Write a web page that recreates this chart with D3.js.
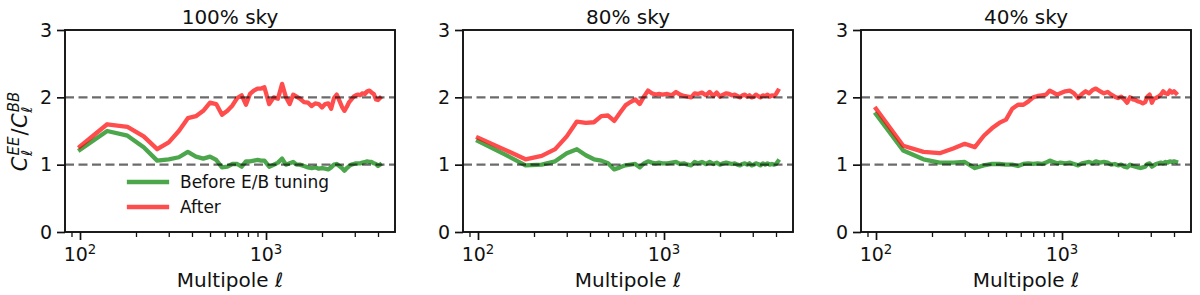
<!DOCTYPE html>
<html><head><meta charset="utf-8">
<script src="https://cdn.jsdelivr.net/npm/d3@7"></script>
<style>
body{margin:0;background:#fff}
svg{display:block}
text{font-family:"DejaVu Sans",sans-serif;fill:#111}
</style>
</head><body>
<svg id="c" width="1200" height="295"></svg>
<script>
// ---------------- data ----------------
const ell = [100,140,180,220,260,300,340,380,420,460,500,540,580,620,660,700,740,780,820,860,900,940,980,
  1040,1100,1160,1220,1280,1340,1400,1460,1520,
  1600,1680,1760,1840,1920,2000,2080,2160,2240,2320,2400,2480,2560,2640,2720,2800,2880,2960,3040,3120,3200,
  3300,3400,3500,3600,3700,3800,3900,4000,4100];

const titles = ["100% sky", "80% sky", "40% sky"];
const legendLabels = ["Before E/B tuning", "After"];

const before100 = [1.22,1.50,1.43,1.26,1.06,1.08,1.11,1.19,1.12,1.09,1.12,1.07,0.96,0.97,1.01,1.01,0.97,1.05,1.05,1.06,1.07,1.06,1.06,
  0.97,1.00,1.03,1.09,1.00,1.02,1.04,1.00,1.00,
  0.98,0.96,0.95,0.96,0.94,0.95,0.94,0.93,0.96,1.00,1.01,0.98,0.95,0.91,0.95,0.98,1.00,1.01,1.02,1.02,1.02,
  1.03,1.04,1.05,1.04,1.04,1.02,1.01,0.98,1.00];
const after100 = [1.27,1.60,1.56,1.42,1.23,1.33,1.50,1.69,1.72,1.80,1.92,1.90,1.74,1.80,1.88,1.99,2.03,1.89,2.05,2.10,2.13,2.13,2.15,
  1.90,2.00,1.98,2.20,2.00,1.90,2.04,2.01,1.98,
  1.93,1.92,1.87,1.91,1.90,1.85,1.90,1.91,1.83,1.99,2.04,1.95,1.86,1.80,1.86,1.93,1.97,2.01,2.03,2.04,2.03,
  2.06,2.05,2.09,2.10,2.07,2.05,1.97,1.96,1.99];

const before80 = [1.35,1.15,0.99,1.00,1.05,1.17,1.23,1.14,1.08,1.06,1.02,0.93,0.96,0.99,1.00,1.01,0.96,1.02,1.05,1.03,1.02,1.03,1.02,
  1.02,1.03,1.04,1.01,1.02,1.00,0.99,1.04,1.02,
  1.04,1.01,1.04,1.01,1.03,1.00,1.02,1.03,1.02,1.01,1.02,1.00,0.99,1.01,1.02,1.00,1.02,0.99,1.00,1.02,1.01,
  0.99,1.02,1.00,1.02,1.00,1.01,1.00,1.01,1.05];
const after80 = [1.40,1.22,1.08,1.13,1.23,1.42,1.64,1.62,1.63,1.72,1.73,1.65,1.77,1.88,1.93,1.97,1.90,2.01,2.10,2.06,2.04,2.05,2.04,
  2.05,2.03,2.08,2.04,2.02,2.01,2.00,2.06,2.05,
  2.07,2.03,2.08,2.02,2.07,2.01,2.04,2.06,2.05,2.03,2.04,2.02,2.00,2.03,2.04,2.01,2.03,2.00,2.01,2.04,2.02,
  2.00,2.03,2.02,2.04,2.01,2.03,2.02,2.05,2.10];

const before40 = [1.75,1.21,1.08,1.03,1.03,1.04,0.95,0.99,1.01,1.01,1.00,1.00,0.98,1.01,1.02,1.01,1.02,1.01,1.03,1.06,1.04,1.02,1.03,
  1.02,1.03,1.01,0.99,1.02,1.03,1.04,1.02,1.05,
  1.03,1.04,1.03,1.00,1.01,0.99,1.00,0.97,0.96,1.00,0.98,0.97,0.96,0.95,0.96,0.97,1.01,1.02,0.97,0.99,1.01,
  1.02,1.03,1.02,1.04,1.03,1.05,1.04,1.05,1.04];
const after40 = [1.83,1.28,1.19,1.17,1.24,1.31,1.26,1.43,1.54,1.62,1.67,1.83,1.89,1.89,1.94,2.00,2.02,2.03,2.04,2.10,2.07,2.04,2.06,
  2.09,2.10,2.06,1.99,2.05,2.09,2.06,2.11,2.13,
  2.09,2.06,2.08,2.04,2.01,1.99,2.01,1.97,1.92,2.00,1.97,1.96,1.94,1.93,1.91,1.93,2.01,2.04,1.92,1.98,1.99,
  2.01,2.04,2.09,2.06,2.05,2.10,2.07,2.09,2.06];

const beforeSeries = [before100, before80, before40];
const afterSeries = [after100, after80, after40];

const yTicks = [0, 1, 2, 3];
const xMajorTicks = [100, 1000];
const xMajorExp = ["2", "3"];
const xMinorTicks = [90, 200, 300, 400, 500, 600, 700, 800, 900, 2000, 3000, 4000];
const refLines = [1, 2];

// ---------------- layout ----------------
const svg = d3.select("#c");
const panelLeft = [65, 463, 861];
const W = 330, plotTop = 30, H = 202;
const cGreen = "#008000", cRed = "#ff0000", lineAlpha = 0.7, lw = 4.3;
const axisColor = "#111";

const lo = Math.log10(d3.min(ell)), hi = Math.log10(d3.max(ell));
const pad = (hi - lo) * 0.05;
const xDomain = [Math.pow(10, lo - pad), Math.pow(10, hi + pad)];

panelLeft.forEach((left, i) => {
  const g = svg.append("g").attr("transform", `translate(${left},${plotTop})`);
  const x = d3.scaleLog().domain(xDomain).range([0, W]);
  const y = d3.scaleLinear().domain([0, 3]).range([H, 0]);

  const line = d3.line().x(d => x(d[0])).y(d => y(d[1]));

  const series = [
    {vals: beforeSeries[i], color: cGreen},
    {vals: afterSeries[i], color: cRed}
  ];
  series.forEach(s => {
    g.append("path")
      .datum(ell.map((l, k) => [l, s.vals[k]]))
      .attr("d", line)
      .attr("fill", "none")
      .attr("stroke", s.color)
      .attr("stroke-opacity", lineAlpha)
      .attr("stroke-width", lw)
      .attr("stroke-linecap", "square")
      .attr("stroke-linejoin", "round");
  });

  refLines.forEach(v => {
    g.append("line")
      .attr("x1", 0).attr("x2", W)
      .attr("y1", y(v)).attr("y2", y(v))
      .attr("stroke", "#000").attr("stroke-opacity", 0.58)
      .attr("stroke-width", 2.4)
      .attr("stroke-dasharray", "9,4.5");
  });

  const ya = g.append("g").call(d3.axisLeft(y).tickValues(yTicks).tickSize(8).tickPadding(5).tickFormat(d3.format("d")));
  ya.select(".domain").remove();
  ya.selectAll(".tick line").attr("stroke", axisColor).attr("stroke-width", 1.7);
  ya.selectAll(".tick text").attr("font-size", 19).attr("font-family", "DejaVu Sans").attr("fill", axisColor);

  const xa = g.append("g").attr("transform", `translate(0,${H})`)
    .call(d3.axisBottom(x).tickValues(xMajorTicks).tickSize(8).tickFormat(() => ""));
  xa.select(".domain").remove();
  xa.selectAll(".tick line").attr("stroke", axisColor).attr("stroke-width", 1.7);
  const xm = g.append("g").attr("transform", `translate(0,${H})`)
    .call(d3.axisBottom(x).tickValues(xMinorTicks).tickSize(5).tickFormat(() => ""));
  xm.select(".domain").remove();
  xm.selectAll(".tick line").attr("stroke", axisColor).attr("stroke-width", 1.3);

  xMajorTicks.forEach((v, k) => {
    const t = g.append("text")
      .attr("x", x(v)).attr("y", H + 29)
      .attr("text-anchor", "middle")
      .attr("font-size", 19);
    t.append("tspan").text("10");
    t.append("tspan").attr("dy", -7.5).attr("font-size", 13.3).text(xMajorExp[k]);
  });

  g.append("rect").attr("x", 0).attr("y", 0).attr("width", W).attr("height", H)
    .attr("fill", "none").attr("stroke", axisColor).attr("stroke-width", 1.9);

  g.append("text").attr("x", W / 2).attr("y", -6).attr("text-anchor", "middle")
    .attr("font-size", 20).text(titles[i]);

  const xl = g.append("text").attr("x", W / 2).attr("y", 257).attr("text-anchor", "middle")
    .attr("font-size", 20);
  xl.append("tspan").text("Multipole ");
  xl.append("tspan").attr("font-style", "italic").text("ℓ");

  if (i === 0) {
    const lg = g.append("g");
    [cGreen, cRed].forEach((c, k) => {
      const yy = 152 + k * 25;
      lg.append("line").attr("x1", 64).attr("x2", 102).attr("y1", yy).attr("y2", yy)
        .attr("stroke", c).attr("stroke-opacity", lineAlpha).attr("stroke-width", lw)
        .attr("stroke-linecap", "square");
      lg.append("text").attr("x", 115).attr("y", yy).attr("dy", "0.35em")
        .attr("font-size", 17).text(legendLabels[k]);
    });
  }
});

// y label C_ℓ^{EE}/C_ℓ^{BB}
(function () {
  const baseX = 27, cy = plotTop + H / 2;
  const gl = svg.append("g").attr("transform", `translate(${baseX},${cy}) rotate(-90)`);
  const parts = [
    {t: "C", it: true},
    {sup: "EE", sub: "ℓ"},
    {t: "/", it: false},
    {t: "C", it: true},
    {sup: "BB", sub: "ℓ"}
  ];
  let cx = 0;
  const els = [];
  parts.forEach(p => {
    if (p.t) {
      const e = gl.append("text").attr("x", cx).attr("y", 0).attr("font-size", 21)
        .attr("font-style", p.it ? "italic" : "normal").text(p.t);
      els.push(e);
      cx += e.node().getComputedTextLength() + (p.t === "/" ? 0.5 : 0);
    } else {
      const s1 = gl.append("text").attr("x", cx + 1).attr("y", -8.5).attr("font-size", 15)
        .attr("font-style", "italic").text(p.sup);
      const s2 = gl.append("text").attr("x", cx + 0.5).attr("y", 4.5).attr("font-size", 15)
        .attr("font-style", "italic").text(p.sub);
      els.push(s1, s2);
      cx += Math.max(s1.node().getComputedTextLength() + 1, s2.node().getComputedTextLength()) + 1;
    }
  });
  const total = cx;
  els.forEach(e => e.attr("x", +e.attr("x") - total / 2));
})();
</script>
</body></html>
